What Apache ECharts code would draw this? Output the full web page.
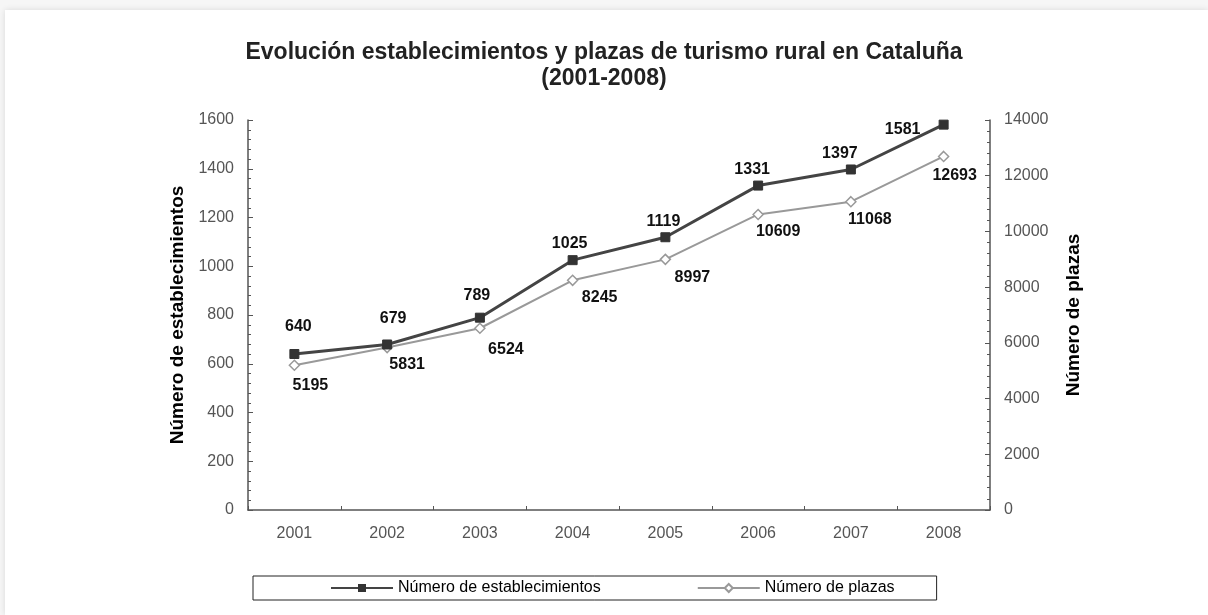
<!DOCTYPE html>
<html>
<head>
<meta charset="utf-8">
<script src="https://cdn.jsdelivr.net/npm/echarts@6/dist/echarts.min.js"></script>
<style>
html,body{margin:0;padding:0;background:#f6f6f6;}
#card{position:absolute;left:5px;top:10px;width:1203px;height:605px;background:#fff;box-shadow:0 0 6px rgba(0,0,0,0.12);}
#chart{position:absolute;left:0;top:0;width:1208px;height:615px;}
</style>
</head>
<body>
<div id="card"></div>
<div id="chart"></div>
<script>
const years = ['2001','2002','2003','2004','2005','2006','2007','2008'];
const establecimientos = [640, 679, 789, 1025, 1119, 1331, 1397, 1581];
const plazas = [5195, 5831, 6524, 8245, 8997, 10609, 11068, 12693];
const seriesNames = ['Número de establecimientos', 'Número de plazas'];
const titleText = 'Evolución establecimientos y plazas de turismo rural en Cataluña\n(2001-2008)';
// label nudges (label centre relative to the point), in px
const nudgeEst = [[4,-27],[6,-26],[-3,-22],[-3,-17],[-2,-16],[-6,-16],[-11,-16],[-41,5]];
const nudgePla = [[16,20],[20,17],[26,21],[27,17],[27,18],[20,17],[19,18],[11,19]];

const FONT = "'Liberation Sans', Arial, sans-serif";
const chart = echarts.init(document.getElementById('chart'), null, {renderer:'canvas'});

function withLabels(vals, nudges){
  return vals.map((v,i)=>({value:v, label:{offset:nudges[i]}}));
}

const axisY = (min,max,interval,name,gap) => ({
  type:'value', min:min, max:max, interval:interval,
  name:name, nameLocation:'middle', nameGap:gap, nameRotate:90,
  nameTextStyle:{fontFamily:FONT, fontWeight:'bold', fontSize:19, color:'#000'},
  axisLine:{show:true, lineStyle:{color:'#555', width:1.5}},
  axisTick:{show:true, inside:true, length:5, lineStyle:{color:'#555'}},
  minorTick:{show:true, splitNumber:5, length:3, lineStyle:{color:'#555'}},
  splitLine:{show:false},
  axisLabel:{fontFamily:FONT, fontSize:16, color:'#555', margin:14, formatter:(v)=>String(v)}
});

chart.setOption({
  backgroundColor:'transparent',
  animation:false,
  title:{
    text:titleText, left:'center', top:35,
    textStyle:{fontFamily:FONT, fontWeight:'bold', fontSize:23, lineHeight:26, color:'#222'}
  },
  grid:{left:248, right:218, top:120, bottom:105, containLabel:false},
  legend:{
    left:253, bottom:15,
    data:seriesNames,
    borderColor:'#222', borderWidth:1,
    padding:[4,42,4,77],
    itemGap:96, itemWidth:62, itemHeight:10,
    textStyle:{fontFamily:FONT, fontSize:16, color:'#000'}
  },
  xAxis:{
    type:'category', data:years, boundaryGap:true,
    axisLine:{lineStyle:{color:'#555', width:1.5}},
    axisTick:{show:true, inside:true, length:4, lineStyle:{color:'#555'}},
    axisLabel:{fontFamily:FONT, fontSize:16, color:'#555', margin:16}
  },
  yAxis:[
    axisY(0,1600,200,'Número de establecimientos',56),
    axisY(0,14000,2000,'Número de plazas',74)
  ],
  series:[
    {
      name:seriesNames[0], type:'line', yAxisIndex:0,
      data:withLabels(establecimientos, nudgeEst),
      symbol:'rect', symbolSize:9,
      itemStyle:{color:'#333', borderColor:'#333'},
      lineStyle:{color:'#444', width:3},
      label:{show:true, position:'inside', fontFamily:FONT, fontWeight:'bold', fontSize:16, color:'#111'},
      z:3
    },
    {
      name:seriesNames[1], type:'line', yAxisIndex:1,
      data:withLabels(plazas, nudgePla),
      symbol:'diamond', symbolSize:10,
      itemStyle:{color:'#fff', borderColor:'#999', borderWidth:1.5},
      lineStyle:{color:'#999', width:2},
      label:{show:true, position:'inside', fontFamily:FONT, fontWeight:'bold', fontSize:16, color:'#111'},
      z:2
    }
  ]
});
</script>
</body>
</html>
